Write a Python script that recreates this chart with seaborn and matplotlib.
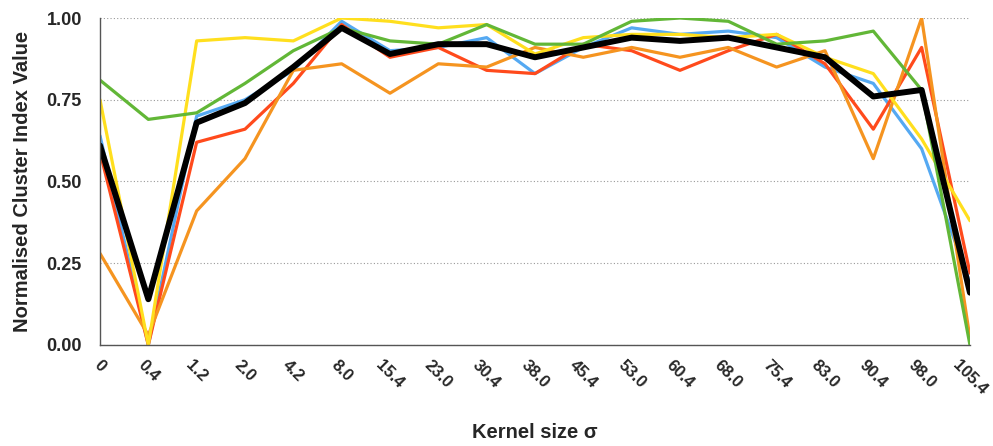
import pandas as pd
import matplotlib.pyplot as plt
import seaborn as sns

sigma = ["0", "0.4", "1.2", "2.0", "4.2", "8.0", "15.4", "23.0", "30.4", "38.0",
         "45.4", "53.0", "60.4", "68.0", "75.4", "83.0", "90.4", "98.0", "105.4"]

blue = [0.64, 0.00, 0.70, 0.75, 0.84, 0.99, 0.90, 0.91, 0.94, 0.83,
        0.91, 0.97, 0.95, 0.96, 0.94, 0.85, 0.80, 0.60, 0.19]
red = [0.59, 0.00, 0.62, 0.66, 0.80, 0.98, 0.88, 0.91, 0.84, 0.83,
       0.92, 0.90, 0.84, 0.90, 0.95, 0.86, 0.66, 0.91, 0.22]
orange = [0.28, 0.03, 0.41, 0.57, 0.84, 0.86, 0.77, 0.86, 0.85, 0.91,
          0.88, 0.91, 0.88, 0.91, 0.85, 0.90, 0.57, 1.00, 0.02]
yellow = [0.75, 0.00, 0.93, 0.94, 0.93, 1.00, 0.99, 0.97, 0.98, 0.89,
          0.94, 0.95, 0.95, 0.94, 0.95, 0.88, 0.83, 0.63, 0.38]
green = [0.81, 0.69, 0.71, 0.80, 0.90, 0.97, 0.93, 0.92, 0.98, 0.92,
         0.92, 0.99, 1.00, 0.99, 0.92, 0.93, 0.96, 0.78, 0.00]
mean = [0.61, 0.14, 0.68, 0.74, 0.85, 0.97, 0.89, 0.92, 0.92, 0.88,
        0.91, 0.94, 0.93, 0.94, 0.91, 0.88, 0.76, 0.78, 0.16]

series = {"blue": blue, "red": red, "orange": orange,
          "yellow": yellow, "green": green, "mean": mean}
colors = {"blue": "#55A9F2", "red": "#FF4A1C", "orange": "#F59420",
          "yellow": "#FFDF1E", "green": "#62B737", "mean": "#000000"}
widths = {"blue": 2.3, "red": 2.3, "orange": 2.3, "yellow": 2.3, "green": 2.3, "mean": 4.3}

rows = []
for name, vals in series.items():
    for i, v in enumerate(vals):
        rows.append({"series": name, "idx": i, "value": v})
df = pd.DataFrame(rows)

sns.set_style("white")
plt.rcParams['font.family'] = ['Liberation Sans', 'DejaVu Sans']

fig = plt.figure(figsize=(9.93, 4.46), dpi=100)
ax = fig.add_axes([0.1007, 0.2265, 0.8761, 0.7331])

for name in series:
    sns.lineplot(data=df[df["series"] == name], x="idx", y="value",
                 color=colors[name], linewidth=widths[name], ax=ax)

ax.set_xlim(0, len(sigma) - 1)
ax.set_ylim(0, 1)
ax.set_yticks([0, 0.25, 0.5, 0.75, 1.0])
ax.set_yticklabels(["0.00", "0.25", "0.50", "0.75", "1.00"], fontsize=13, fontweight="bold")
ax.set_xticks(range(len(sigma)))
ax.set_xticklabels(sigma, fontsize=12, fontweight="bold", rotation=-45, ha="center", va="top")
ax.tick_params(axis="both", length=0)
ax.tick_params(axis="x", pad=9)
ax.tick_params(axis="y", pad=13)
ax.yaxis.grid(True, linestyle=(0, (1, 2)), color="#999999", linewidth=0.8)
ax.xaxis.grid(False)
for s in ["top", "right"]:
    ax.spines[s].set_visible(False)
for s in ["left", "bottom"]:
    ax.spines[s].set_color("#555555")
    ax.spines[s].set_linewidth(1.0)

ax.set_xlabel("Kernel size σ", fontsize=14.5, fontweight="bold")
ax.set_ylabel("Normalised Cluster Index Value", fontsize=14.5, fontweight="bold")
ax.xaxis.set_label_coords(0.5, -0.24)
ax.yaxis.set_label_coords(-0.078, 0.5)

fig.savefig("out.png", dpi=100)
